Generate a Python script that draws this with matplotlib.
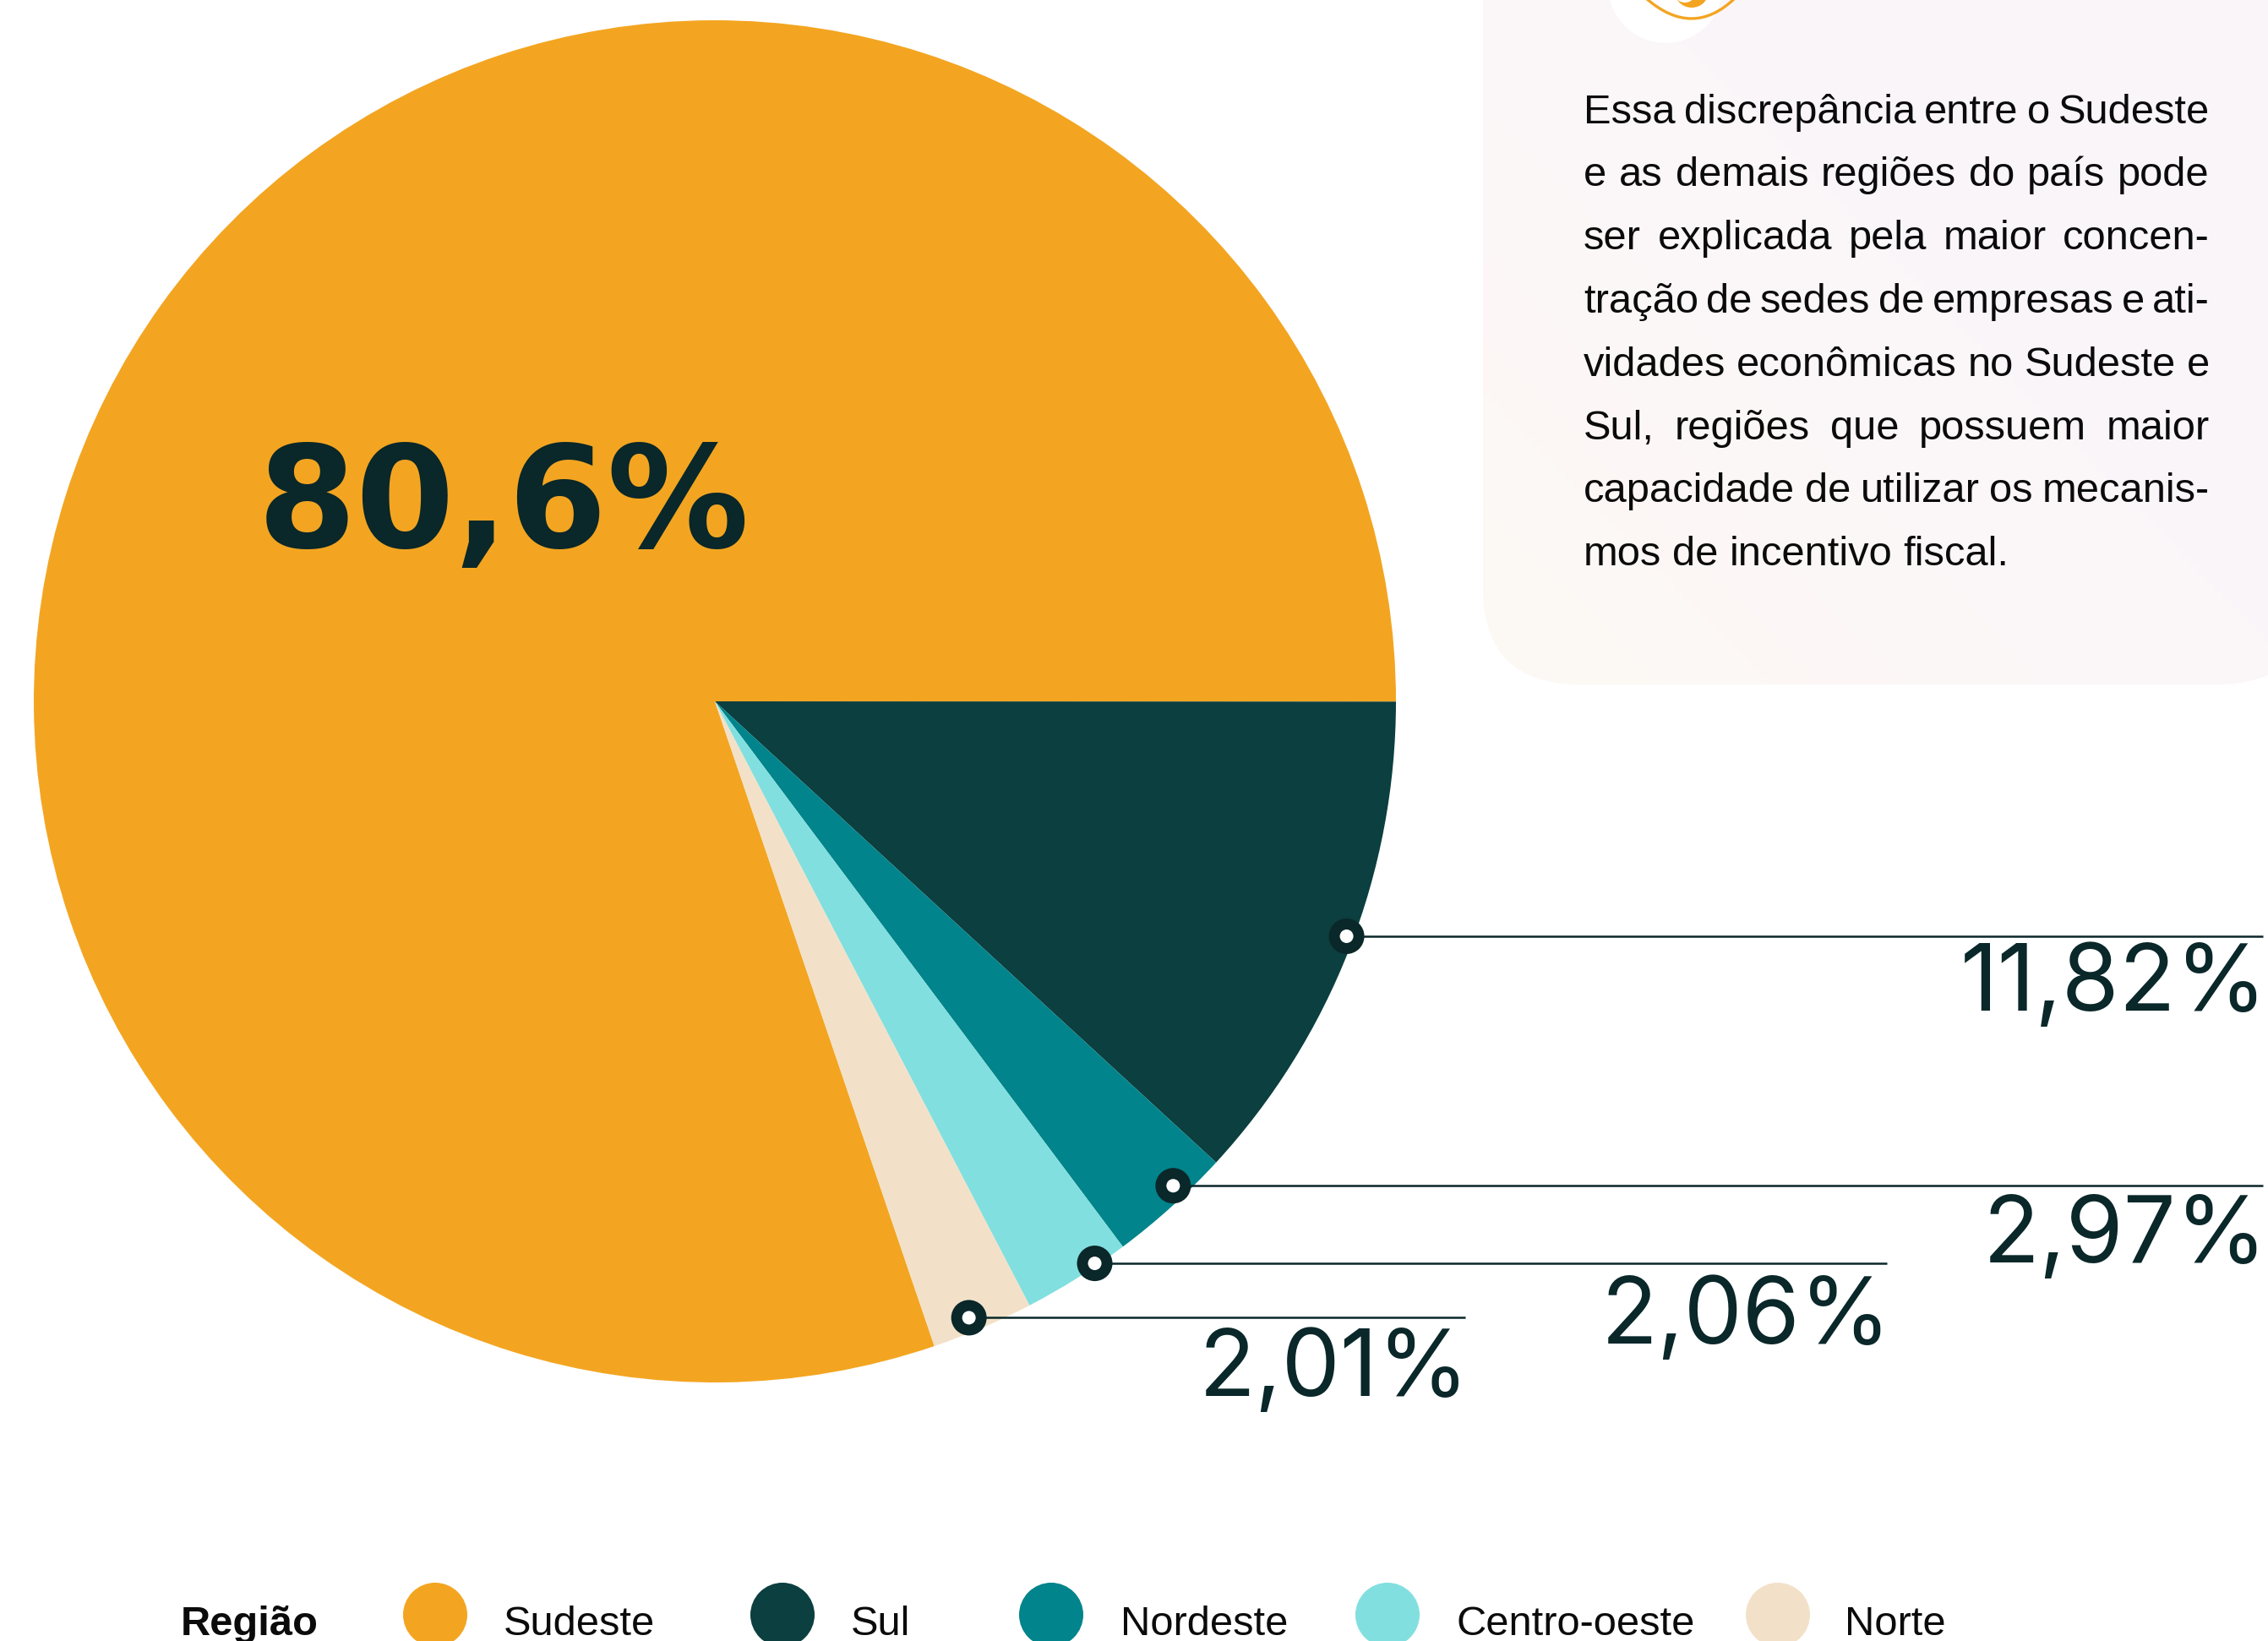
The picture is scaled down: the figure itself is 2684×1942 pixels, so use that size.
import numpy as np
from matplotlib import pyplot as plt
from matplotlib.patches import Circle, Ellipse, FancyBboxPatch, PathPatch
from matplotlib.path import Path
from matplotlib.colors import LinearSegmentedColormap

# Dados
regioes = ["Sudeste", "Sul", "Nordeste", "Centro-oeste", "Norte"]
fatias = [80.22, 11.83, 2.94, 2.58, 2.42]
rotulos = ["80,6%", "11,82%", "2,97%", "2,06%", "2,01%"]
cores = ["#F3A521", "#0C3F3F", "#01848B", "#82DFDF", "#F2E1C8"]

texto = [
    "Essa discrepância entre o Sudeste",
    "e as demais regiões do país pode",
    "ser explicada pela maior concen-",
    "tração de sedes de empresas e ati-",
    "vidades econômicas no Sudeste e",
    "Sul, regiões que possuem maior",
    "capacidade de utilizar os mecanis-",
    "mos de incentivo fiscal.",
]

# Layout em pixels
W, H = 2684, 1942
escuro = "#0A2729"
fonte = "Liberation Sans"

# posicao do ponto dentro da fatia (fracao do angulo, fracao do raio), fim da linha, base do rotulo
ponto_ang = [0.48, 0.38, 0.30, 0.59]
ponto_raio = [0.99, 0.98, 0.997, 0.98]
fim_linha = [2678, 2678, 2233, 1734]
base_rotulo = [1196, 1494, 1590, 1652]

fig = plt.figure(figsize=(W / 100, H / 100), dpi=100)
ax = fig.add_axes([0, 0, 1, 1])

# Cartao de fundo com gradiente leve
cartao = FancyBboxPatch((1755, -200), 983, 1010, boxstyle="round,pad=0,rounding_size=115",
                        facecolor="none", edgecolor="none")
ax.add_patch(cartao)
gradiente = LinearSegmentedColormap.from_list("cartao", ["#FDF9F4", "#FBF6F9", "#FAF5F9"])
xx, yy = np.meshgrid(np.linspace(0, 1, 100), np.linspace(0, 1, 100))
img = ax.imshow((xx + yy) / 2, cmap=gradiente, extent=[1755, 2738, 810, -200], origin="lower",
                aspect="auto", zorder=0)
img.set_clip_path(cartao)

# Icone cortado no topo do cartao
ax.add_patch(Circle((1971, -17), 68, facecolor="white", edgecolor="none", zorder=1))
curva = Path([(1948, -2), (2003, 46), (2053, -2)], [Path.MOVETO, Path.CURVE3, Path.CURVE3])
ax.add_patch(PathPatch(curva, facecolor="none", edgecolor=cores[0], linewidth=2.4, zorder=2))
ax.add_patch(Ellipse((2002, -8), 38, 34, facecolor=cores[0], edgecolor="none", zorder=2))
ax.add_patch(Ellipse((1994, -4), 20, 14, facecolor="white", edgecolor="none", zorder=3))

# Pizza
ax.set_xlim(0, W)
ax.set_ylim(H, 0)
wedges, _ = ax.pie(fatias, colors=cores, center=(846, 830), radius=806,
                   startangle=71.2, counterclock=True, frame=True)
ax.set_xlim(0, W)
ax.set_ylim(H, 0)
ax.axis("off")

ax.text(596, 648, rotulos[0], fontsize=121, fontweight="bold", family="DejaVu Sans",
        color=escuro, ha="center", va="baseline")

# Linhas e rotulos das fatias menores
for i in range(4):
    w = wedges[i + 1]
    ang = np.radians(w.theta1 + ponto_ang[i] * (w.theta2 - w.theta1))
    x = w.center[0] + w.r * ponto_raio[i] * np.cos(ang)
    y = w.center[1] + w.r * ponto_raio[i] * np.sin(ang) - 1
    ax.plot([x, fim_linha[i]], [y, y], color=escuro, linewidth=1.8, zorder=4,
            solid_capstyle="butt")
    ax.add_patch(Circle((x, y), 21, facecolor=escuro, edgecolor="none", zorder=5))
    ax.add_patch(Circle((x, y), 8, facecolor="white", edgecolor="none", zorder=6))
    ax.text(fim_linha[i] + 5, base_rotulo[i], rotulos[i + 1], fontsize=79, family="Inter",
            color=escuro, ha="right", va="baseline")

# Texto justificado, palavra por palavra
render = fig.canvas.get_renderer()
esq, dir_ = 1874, 2615
for n, linha in enumerate(texto):
    base = 145.5 + n * 74.8
    palavras = []
    for p in linha.split():
        palavras.append(ax.text(0, base, p, fontsize=35.2, family=fonte, color="#0B0B0B",
                                ha="left", va="baseline", zorder=3))
    larguras = [t.get_window_extent(render).width for t in palavras]
    if n < len(texto) - 1:
        espaco = (dir_ - esq - sum(larguras)) / (len(palavras) - 1)
    else:
        espaco = 13
    x = esq
    for t, l in zip(palavras, larguras):
        t.set_x(x)
        x += l + espaco

# Legenda
ax.text(214, 1935, "Região", fontsize=35.2, fontweight="bold", family=fonte, color="#0B0B0B",
        ha="left", va="baseline")
leg_circulo = [515, 926, 1244, 1642, 2104]
leg_texto = [596, 1007, 1326, 1723, 2183]
for i in range(5):
    ax.add_patch(Circle((leg_circulo[i], 1911), 38, facecolor=cores[i], edgecolor="none"))
    ax.text(leg_texto[i], 1935, regioes[i], fontsize=35.2, family=fonte, color="#0B0B0B",
            ha="left", va="baseline")

fig.savefig("out.png", dpi=100, facecolor="white")
